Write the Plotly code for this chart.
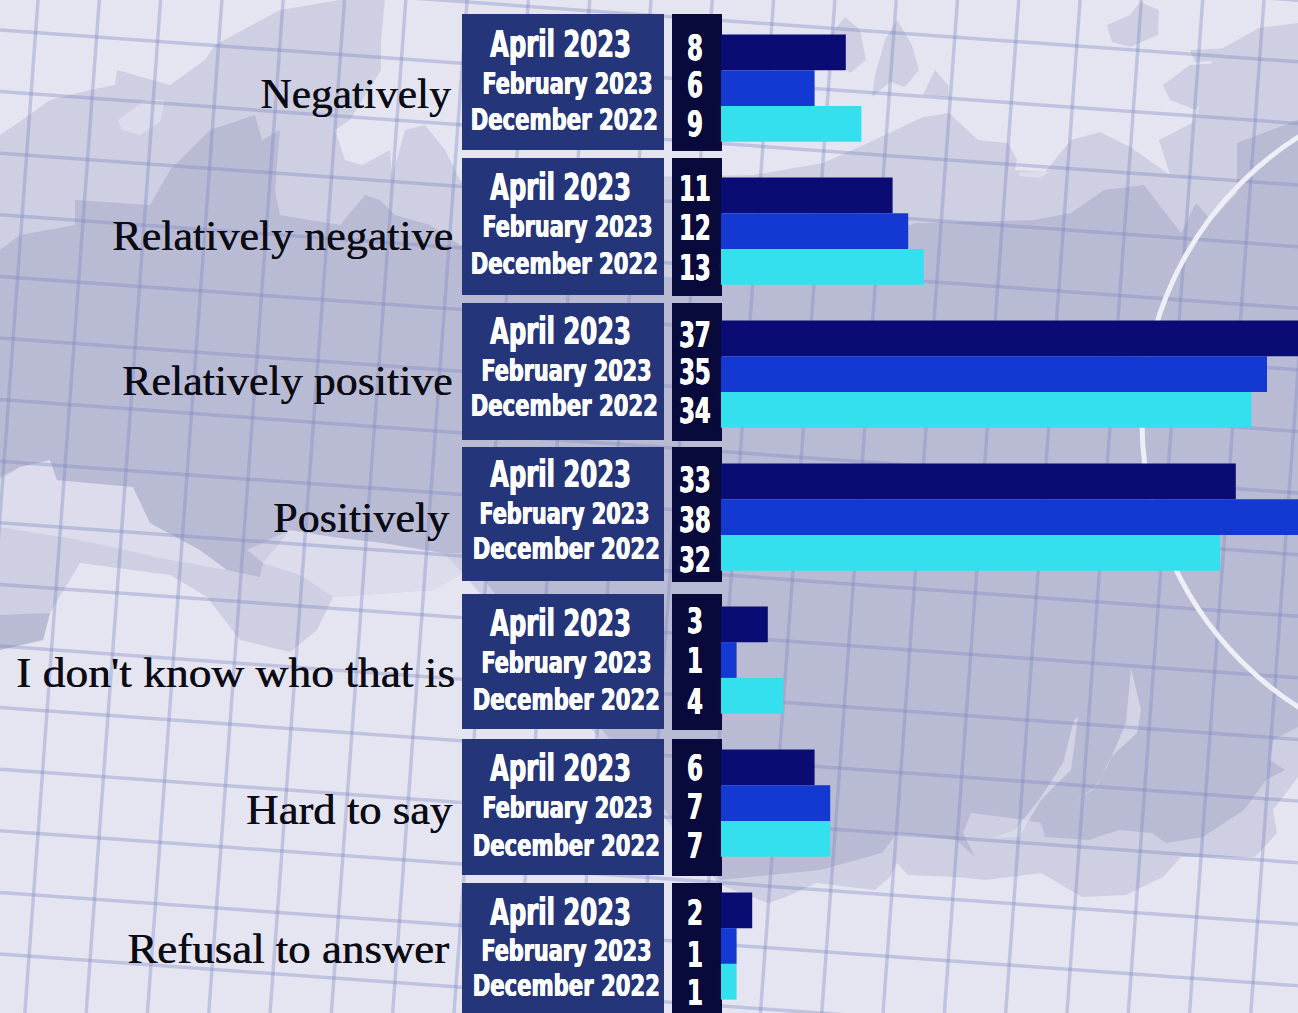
import json
import plotly.graph_objects as go

categories = ["Negatively", "Relatively negative", "Relatively positive", "Positively",
              "I don't know who that is", "Hard to say", "Refusal to answer"]
april_2023 = [8, 11, 37, 33, 3, 6, 2]
february_2023 = [6, 12, 35, 38, 1, 7, 1]
december_2022 = [9, 13, 34, 32, 4, 7, 1]
period_names = ["April 2023", "February 2023", "December 2022"]

W, H = 1298, 1013
SEA = "#e5e5f1"
LIGHT = "#cecfe2"
DARK = "#b9bbd4"
GRID = "rgba(125,135,190,0.36)"
LAKE = "rgba(226,226,240,0.6)"
PANEL = "#24357a"
NUMPANEL = "#090a3c"


def path(pts):
    return "M " + " L ".join(f"{x},{y}" for x, y in pts) + " Z"


shapes = []


def add_poly(pts, color):
    shapes.append(dict(type="path", xref="paper", yref="paper",
                       path=path([(round(x / W, 5), round(1 - y / H, 5)) for x, y in pts]),
                       fillcolor=color, line=dict(width=0), layer="below"))


land = [(0, 135), (15, 125), (50, 100), (90, 90), (115, 85), (117, 70), (170, 85), (205, 60), (215, 45),
        (280, 10), (340, 0), (385, 0), (381, 40), (381, 70), (350, 120), (335, 130), (345, 160), (362, 165),
        (390, 150), (392, 177), (405, 130), (425, 125), (445, 150), (460, 180), (753, 175), (823, 163),
        (868, 143), (923, 117), (949, 113), (978, 140), (1008, 143), (1017, 160), (1015, 170), (1045, 172),
        (1071, 140), (1100, 132), (1130, 147), (1170, 175), (1159, 140), (1192, 123), (1196, 117), (1214, 53),
        (1259, 28), (1298, 23), (1298, 777), (1273, 810), (1277, 833), (1255, 857), (1181, 857), (1163, 877),
        (1126, 895), (1082, 897), (1041, 873), (986, 880), (956, 877), (908, 875), (897, 863), (890, 877),
        (875, 890), (816, 883), (786, 897), (768, 903), (720, 885), (463, 573), (433, 590), (333, 597),
        (317, 630), (290, 652), (240, 640), (207, 597), (170, 575), (80, 563), (50, 613), (43, 640), (0, 650)]
add_poly(land, LIGHT)

for isl in [
    [(830, 35), (845, 17), (860, 30), (866, 60), (850, 73), (836, 60)],
    [(875, 75), (885, 40), (897, 20), (912, 45), (919, 70), (905, 87), (890, 82), (872, 97)],
    [(923, 95), (935, 70), (948, 85), (949, 97)],
    [(1107, 25), (1130, 15), (1140, 2), (1159, 10), (1158, 35), (1130, 47), (1112, 42)],
    [(1163, 85), (1190, 65), (1217, 63), (1210, 90), (1196, 110), (1170, 100)],
    [(1190, 50), (1232, 48), (1225, 60), (1195, 62)],
]:
    add_poly(isl, LIGHT)

for sea in [
    [(0, 480), (20, 467), (50, 460), (57, 480), (133, 487), (150, 523), (200, 550), (227, 570), (170, 560),
     (80, 540), (0, 527)],
    [(118, 120), (145, 100), (165, 100), (160, 122), (140, 135), (122, 130)],
    [(263, 563), (290, 530), (333, 537), (383, 543), (443, 553), (463, 573), (433, 590), (333, 597), (300, 575)],
    [(1019, 172), (1050, 172), (1040, 178), (1020, 176)],
]:
    add_poly(sea, "#dcdcec")

dark = [(0, 250), (20, 235), (75, 225), (75, 200), (150, 205), (170, 170), (210, 130), (255, 115), (262, 140),
        (280, 130), (275, 190), (280, 215), (340, 225), (365, 195), (380, 200), (395, 215), (430, 225), (460, 245),
        (720, 285), (916, 223), (1034, 220), (1071, 213), (1104, 190), (1144, 185), (1181, 233), (1196, 203),
        (1211, 220), (1237, 193), (1237, 143), (1298, 120), (1298, 727), (1273, 740), (1270, 760), (1285, 770),
        (1266, 780), (1244, 810), (1203, 837), (1166, 843), (1152, 833), (1119, 830), (1089, 840), (1045, 837),
        (1041, 823), (1026, 820), (971, 813), (963, 833), (975, 857), (956, 840), (897, 833), (882, 853),
        (820, 870), (720, 880), (463, 553), (443, 553), (383, 543), (333, 537), (290, 530), (247, 550),
        (263, 563), (260, 577), (227, 570), (200, 550), (150, 523), (133, 487), (57, 480), (50, 460), (20, 467),
        (0, 477)]
add_poly(dark, DARK)
add_poly([(0, 650), (43, 640), (50, 613), (0, 615)], DARK)
add_poly([(1131, 668), (1141, 710), (1137, 733), (1111, 757), (1096, 787), (1071, 803), (1093, 790), (1107, 767),
          (1126, 723)], LAKE)
add_poly([(1078, 717), (1071, 770), (1041, 800), (1019, 837), (993, 838), (1015, 830), (1041, 797), (1063, 763),
          (1074, 720)], LAKE)

# tilted map grid
for k in range(-2, 24):
    x0 = 38 + 61.3 * k
    shapes.append(dict(type="line", xref="paper", yref="paper", x0=x0 / W, y0=1, x1=(x0 - 0.0735 * H) / W, y1=0,
                       line=dict(color=GRID, width=3.5), layer="below"))
for k in range(-2, 18):
    y0 = 30 + 61.6 * k
    shapes.append(dict(type="line", xref="paper", yref="paper", x0=0, y0=1 - y0 / H, x1=1,
                       y1=1 - (y0 + 0.072 * W) / H, line=dict(color=GRID, width=3.5), layer="below"))

# white ring
cx, cy, r = 1480, 422, 338
shapes.append(dict(type="circle", xref="paper", yref="paper", x0=(cx - r) / W, x1=(cx + r) / W,
                   y0=1 - (cy + r) / H, y1=1 - (cy - r) / H, line=dict(color="#eeeef6", width=5), layer="below"))

panel_rows = [(14, 150), (158, 295), (303, 440), (447, 581), (594, 729), (739, 875), (883, 1020)]
for top, bottom in panel_rows:
    shapes.append(dict(type="rect", xref="paper", yref="paper", x0=462 / W, x1=664 / W, y0=1 - bottom / H,
                       y1=1 - top / H, fillcolor=PANEL, line=dict(width=0), layer="below"))
    shapes.append(dict(type="rect", xref="paper", yref="paper", x0=672 / W, x1=722 / W, y0=1 - (bottom + 1) / H,
                       y1=1 - top / H, fillcolor=NUMPANEL, line=dict(width=0), layer="below"))

fig = go.Figure()
series = [(period_names[0], april_2023, "#0a0c74"),
          (period_names[1], february_2023, "#1438d2"),
          (period_names[2], december_2022, "#35e0ee")]
for name, vals, color in series:
    fig.add_bar(name=name, y=categories, x=vals, orientation="h", marker=dict(color=color, line=dict(width=0)),
                showlegend=False, hoverinfo="x+y")

annotations = []


def add_text(text, x, y, size, family, color, anchor, shadow=None, weight=None):
    font = dict(size=size, family=family, color=color)
    if shadow:
        font["shadow"] = shadow
    if weight:
        font["weight"] = weight
    annotations.append(dict(text=text, x=x / W, y=1 - y / H, xref="paper", yref="paper", xanchor=anchor,
                            yanchor="middle", showarrow=False, font=font))


label_y = [94, 236, 380, 517, 672, 809, 948]
label_right = [453, 455, 455, 452, 457, 455, 451]
label_stretch = [1.01, 1.024, 1.022, 1.023, 1.058, 1.04, 1.045]
for cat, y, xr in zip(categories, label_y, label_right):
    add_text(cat, xr, y, 43, "Liberation Serif", "#0b0b14", "right", "0.5px 0 0 #0b0b14")

month_y = [(45, 83, 119), (188, 226, 263), (331, 370, 405), (474, 513, 548), (623, 662, 699), (768, 807, 845),
           (912, 950, 985)]
month_x = [(560, 567, 564), (560, 567, 564), (560, 566, 564), (560, 564, 566), (560, 566, 566), (560, 567, 566),
           (560, 566, 566)]
num_y = [(48, 85, 124), (189, 228, 268), (335, 372, 411), (480, 520, 560), (621, 661, 702), (768, 807, 846),
         (913, 955, 993)]
COND = "DejaVu Sans Condensed, Roboto"
sizes = (37, 30, 31)
thick = "0.5px 0 0 #fff, -0.5px 0 0 #fff"
for i in range(7):
    for j, (name, vals, _) in enumerate(series):
        add_text(name, month_x[i][j], month_y[i][j], sizes[j], COND, "#ffffff", "center", thick, 700)
        add_text(str(vals[i]), 695, num_y[i][j], 35, COND, "#ffffff", "center", thick, 700)

row_step = 143
fig.update_layout(
    width=W, height=H, autosize=False,
    margin=dict(l=0, r=0, t=0, b=0), paper_bgcolor=SEA, plot_bgcolor="rgba(0,0,0,0)",
    barmode="group", bargap=0.25, bargroupgap=0,
    shapes=shapes, annotations=annotations,
    xaxis=dict(domain=[721 / W, 1], range=[0, 577 / 15.6], visible=False),
    yaxis=dict(categoryorder="array", categoryarray=categories,
               range=[(H - 88) / row_step, -88 / row_step], visible=False),
)

# horizontal squeeze of the condensed poster lettering, and slight widening of the serif labels
squeeze_js = """
document.body.style.margin='0';document.documentElement.style.overflow='hidden';
var sx={37:0.73,30:0.77,31:0.76,35:0.72};
var lab=%s, labIdx=0;
document.querySelectorAll('.annotation-text').forEach(function(t){
  var fs=Math.round(parseFloat(t.style.fontSize)), s=sx[fs];
  var isLabel=(fs==43);
  if(isLabel){s=lab[labIdx++];}
  if(!s) return;
  t.style.transformBox='fill-box';
  t.style.transformOrigin=(isLabel?'right':'center')+' center';
  t.style.transform='scaleX('+s+')';
});
""" % json.dumps(label_stretch)
fig.write_html("out.html", config=dict(displayModeBar=False), post_script=squeeze_js)
